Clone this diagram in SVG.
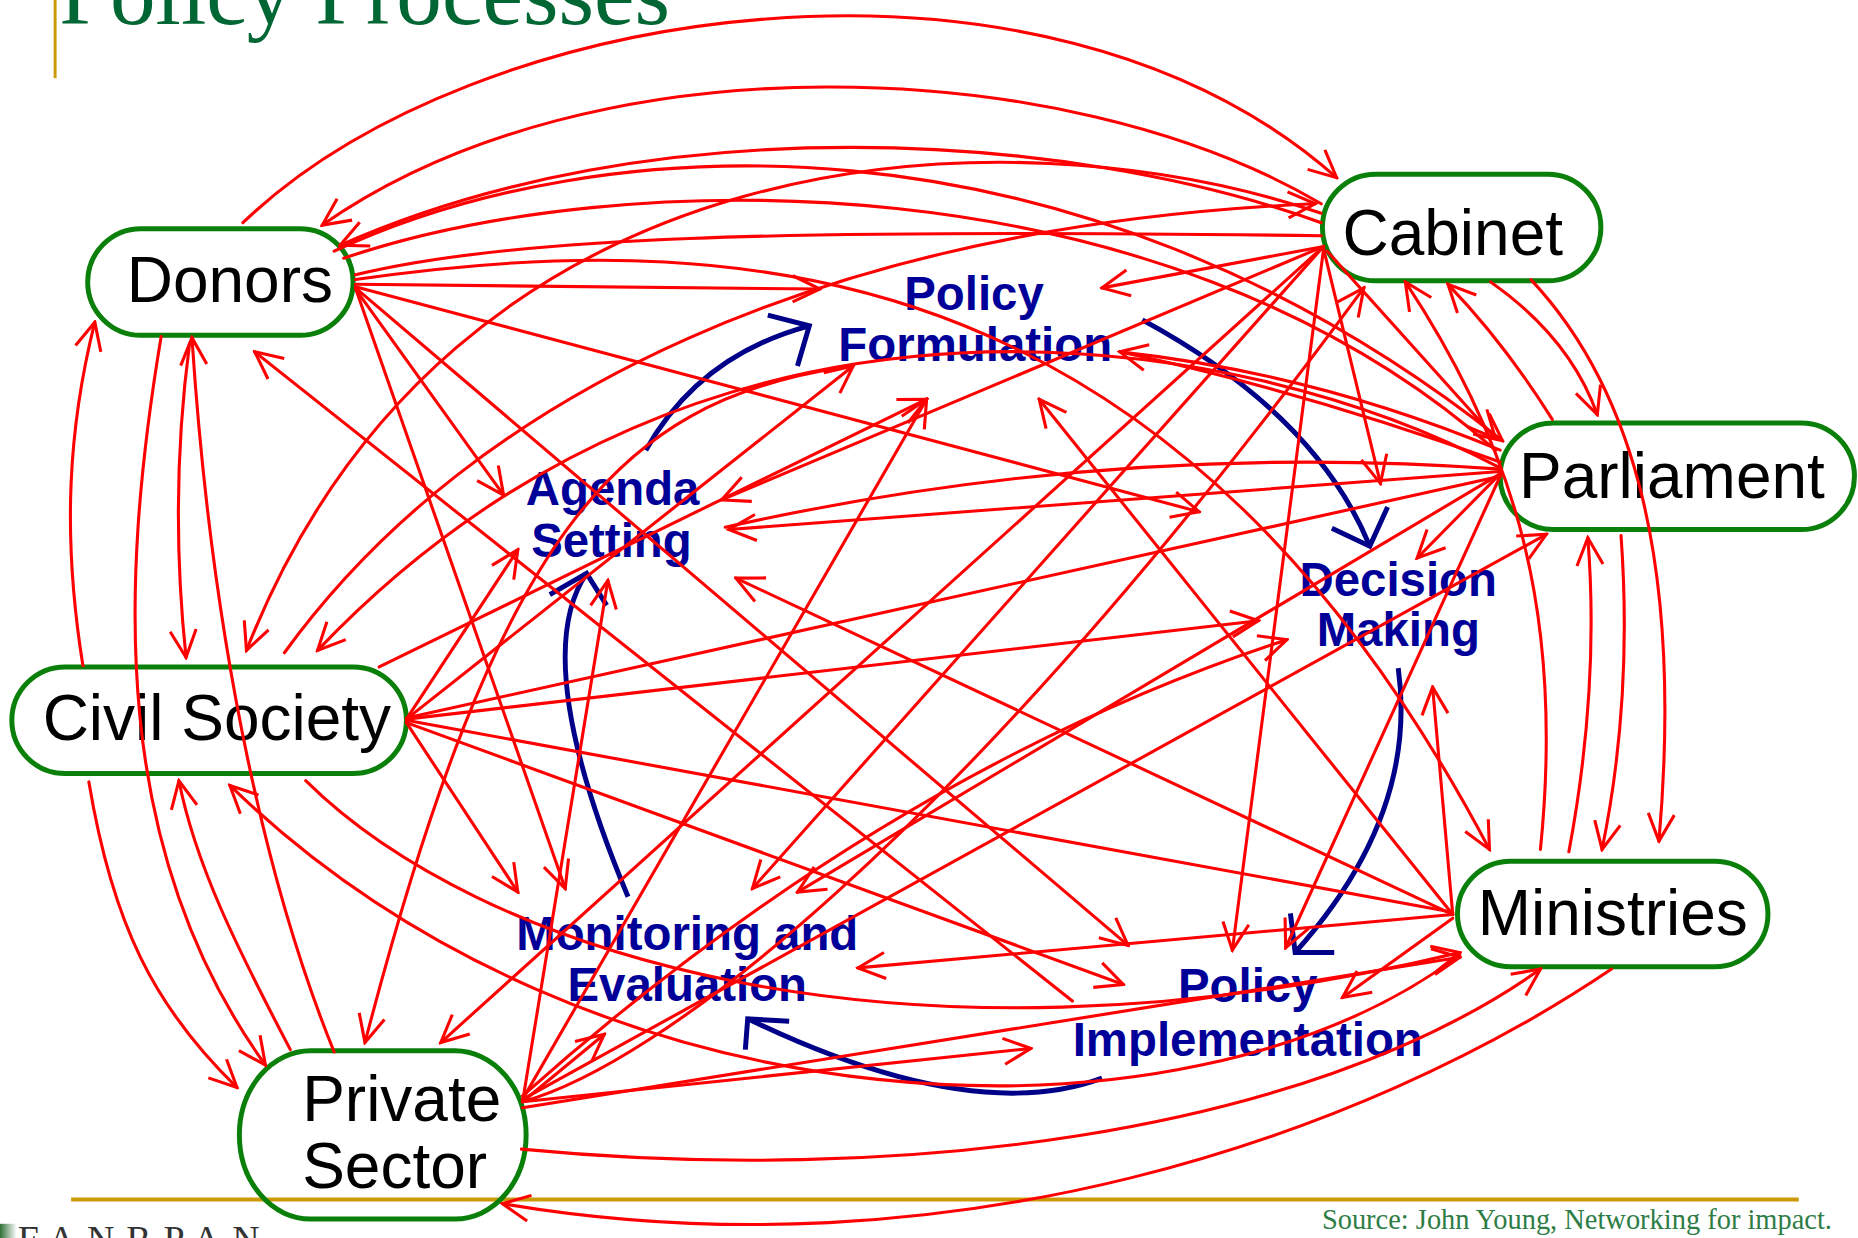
<svg xmlns="http://www.w3.org/2000/svg" width="1858" height="1238" viewBox="0 0 1858 1238">
<defs>
<style>
.n{fill:none;stroke:#0a800a;stroke-width:4.2}
.t{font-family:"Liberation Sans",Arial,sans-serif;font-size:54px;fill:#000;text-anchor:middle}
.s{font-family:"Liberation Sans",Arial,sans-serif;font-weight:bold;font-size:40px;fill:#000099;text-anchor:middle}
.e{fill:none;stroke:#ff0000;stroke-width:2.6;stroke-linecap:round}
.a{marker-end:url(#ar)}
.c{fill:none;stroke:#000088;stroke-width:4.2}
</style>
<marker id="ar" viewBox="-26 -14 28 28" refX="0" refY="0" markerWidth="28" markerHeight="28" markerUnits="userSpaceOnUse" orient="auto">
<path d="M-23,-11 L0,0 L-23,11" fill="none" stroke="#ff0000" stroke-width="2.6"/>
</marker>
<linearGradient id="lg" x1="0" y1="0" x2="1" y2="0">
<stop offset="0" stop-color="#2f6f35"/>
<stop offset="1" stop-color="#ffffff"/>
</linearGradient>
</defs>
<rect width="1858" height="1238" fill="#ffffff"/>
<g transform="scale(1.18495,1.18469)">
<g id="frame">
<text x="50" y="20" style="font-family:'Liberation Serif','Times New Roman',serif;font-size:77px;fill:#006633">Policy Processes</text>
<line x1="46.5" y1="0" x2="46.5" y2="66" stroke="#cc9a06" stroke-width="2.5"/>
<line x1="60" y1="1012.5" x2="1518" y2="1012.5" stroke="#cc9a06" stroke-width="3.4"/>
<text x="1546" y="1037" style="font-family:'Liberation Serif','Times New Roman',serif;font-size:24px;fill:#2e7d46;text-anchor:end">Source: John Young, Networking for impact.</text>
<rect x="0" y="1033" width="14" height="12" fill="url(#lg)"/>
<text x="15" y="1057" style="font-family:'Liberation Serif','Times New Roman',serif;font-size:32px;fill:#333;letter-spacing:10px">FANRPAN</text>
</g>
<g id="node-donors"><rect class="n" x="74" y="193" width="224" height="90" rx="45" ry="45"/><text class="t" x="194" y="255">Donors</text></g>
<g id="node-cabinet"><rect class="n" x="1116" y="147" width="235" height="90" rx="45" ry="45"/><text class="t" x="1226" y="215">Cabinet</text></g>
<g id="node-parliament"><rect class="n" x="1266" y="357" width="299" height="90" rx="45" ry="45"/><text class="t" x="1411" y="420">Parliament</text></g>
<g id="node-civil-society"><rect class="n" x="10" y="563" width="333" height="90" rx="45" ry="45"/><text class="t" x="183" y="625">Civil Society</text></g>
<g id="node-ministries"><rect class="n" x="1230" y="727" width="262" height="89" rx="45" ry="45"/><text class="t" x="1361" y="789">Ministries</text></g>
<g id="node-private-sector"><rect class="n" x="202" y="887" width="242" height="142" rx="60" ry="71"/><text class="t" x="255" y="946" style="text-anchor:start">Private</text><text class="t" x="255" y="1003" style="text-anchor:start">Sector</text></g>
<g id="stage-policy-formulation"><text class="s" x="822" y="262">Policy</text><text class="s" x="823" y="305">Formulation</text></g>
<g id="stage-agenda-setting"><text class="s" x="517" y="426">Agenda</text><text class="s" x="516" y="470">Setting</text></g>
<g id="stage-decision-making"><text class="s" x="1180" y="503">Decision</text><text class="s" x="1180" y="545">Making</text></g>
<g id="stage-monitoring"><text class="s" x="580" y="802">Monitoring and</text><text class="s" x="580" y="845">Evaluation</text></g>
<g id="stage-implementation"><text class="s" x="1053" y="846">Policy</text><text class="s" x="1053" y="891">Implementation</text></g>
<g id="cycle">
<path class="c" d="M545,380 Q590,300 683,275"/><path class="c" d="M648,266 L683,275 L673,309"/>
<path class="c" d="M964,270 Q1110,349 1156,461"/><path class="c" d="M1124,446 L1156,461 L1171,428"/>
<path class="c" d="M1180,564 Q1197,688 1093,804"/><path class="c" d="M1089,771 L1093,804 L1126,804"/>
<path class="c" d="M930,910 Q820,951 631,860"/><path class="c" d="M666,862 L631,860 L629,886"/>
<path class="c" d="M530,757 Q446,556 495,484"/><path class="c" d="M464,502 L495,484 L512,511"/>
</g>
<g id="connectors">
<path class="e a" d="M205,188 C400,0 880,-70 1128,150"/>
<path class="e a" d="M1115,172 C900,45 500,30 272,190"/>
<path class="e a" d="M1115,188 C900,110 550,90 287,207"/>
<path class="e a" d="M282,212 C500,110 900,80 1268,372"/>
<path class="e" d="M290,218 C520,140 980,130 1262,380"/>
<path class="e" d="M300,232 C430,200 650,193 1115,199"/>
<path class="e a" d="M300,240 L692,244"/>
<path class="e a" d="M300,242 L1012,432"/>
<path class="e a" d="M300,244 L425,418"/>
<path class="e a" d="M301,246 L477,750"/>
<path class="e a" d="M300,243 L952,798"/>
<path class="e a" d="M905,845 L215,297"/>
<path class="e a" d="M300,236 C650,185 1000,230 1257,717"/>
<path class="e a" d="M1117,208 L930,243"/>
<path class="e a" d="M1117,208 L609,422"/>
<path class="e a" d="M1117,208 L372,880"/>
<path class="e a" d="M1117,208 L635,750"/>
<path class="e a" d="M1117,210 L1165,408"/>
<path class="e a" d="M1117,210 L1040,802"/>
<path class="e a" d="M1120,212 L1262,370"/>
<path class="e a" d="M1292,236 C1380,330 1420,480 1400,710"/>
<path class="e a" d="M1258,238 Q1325,285 1348,350"/>
<path class="e a" d="M1310,354 Q1270,290 1222,240"/>
<path class="e a" d="M1300,717 C1320,520 1280,380 1186,238"/>
<path class="e a" d="M441,930 C550,900 800,720 1151,243"/>
<path class="e a" d="M1266,398 L615,447"/>
<path class="e" d="M1266,396 Q940,372 612,445"/>
<path class="e a" d="M1266,390 Q1100,330 945,297"/>
<path class="e" d="M1266,380 Q1110,315 945,297"/>
<path class="e a" d="M1266,400 L1196,471"/>
<path class="e a" d="M1266,402 L1085,800"/>
<path class="e a" d="M1266,400 L673,753"/>
<path class="e" d="M343,606 L1266,402"/>
<path class="e a" d="M441,928 L1305,451"/>
<path class="e a" d="M1324,719 Q1350,580 1340,454"/>
<path class="e a" d="M1368,452 Q1378,590 1352,717"/>
<path class="e a" d="M1226,772 L621,488"/>
<path class="e a" d="M1226,772 L877,337"/>
<path class="e a" d="M1226,772 L724,817"/>
<path class="e a" d="M1226,772 L1209,580"/>
<path class="e a" d="M1226,775 L1133,842"/>
<path class="e" d="M343,608 L1226,770"/>
<path class="e a" d="M1360,818 C1150,960 800,1080 424,1016"/>
<path class="e a" d="M440,970 C750,1000 1100,960 1300,818"/>
<path class="e a" d="M441,935 L1232,808"/>
<path class="e a" d="M258,659 C400,800 750,920 1232,804"/>
<path class="e a" d="M1232,806 C1000,980 500,960 194,663"/>
<path class="e a" d="M343,607 L1062,524"/>
<path class="e a" d="M343,607 L720,309"/>
<path class="e a" d="M343,607 L437,464"/>
<path class="e a" d="M320,563 L782,337"/>
<path class="e a" d="M343,610 L437,753"/>
<path class="e a" d="M343,610 L948,831"/>
<path class="e a" d="M711,310 C520,340 420,450 308,880"/>
<path class="e a" d="M441,930 L513,490"/>
<path class="e a" d="M441,928 L782,337"/>
<path class="e a" d="M441,925 Q750,650 1086,540"/>
<path class="e a" d="M441,930 L870,885"/>
<path class="e a" d="M441,930 L510,873"/>
<path class="e a" d="M70,562 C52,450 58,360 80,272"/>
<path class="e a" d="M160,290 C148,380 148,470 157,555"/>
<path class="e a" d="M282,888 C230,760 180,560 162,285"/>
<path class="e a" d="M136,284 C100,500 95,720 224,899"/>
<path class="e a" d="M245,886 C200,800 165,730 151,659"/>
<path class="e a" d="M75,660 C95,780 130,850 200,918"/>
<path class="e a" d="M1115,180 C850,90 380,110 208,549"/>
<path class="e a" d="M1266,395 C1050,280 600,200 268,549"/>
<path class="e a" d="M240,551 C400,330 700,190 1110,172"/>
</g>
</g>
</svg>
